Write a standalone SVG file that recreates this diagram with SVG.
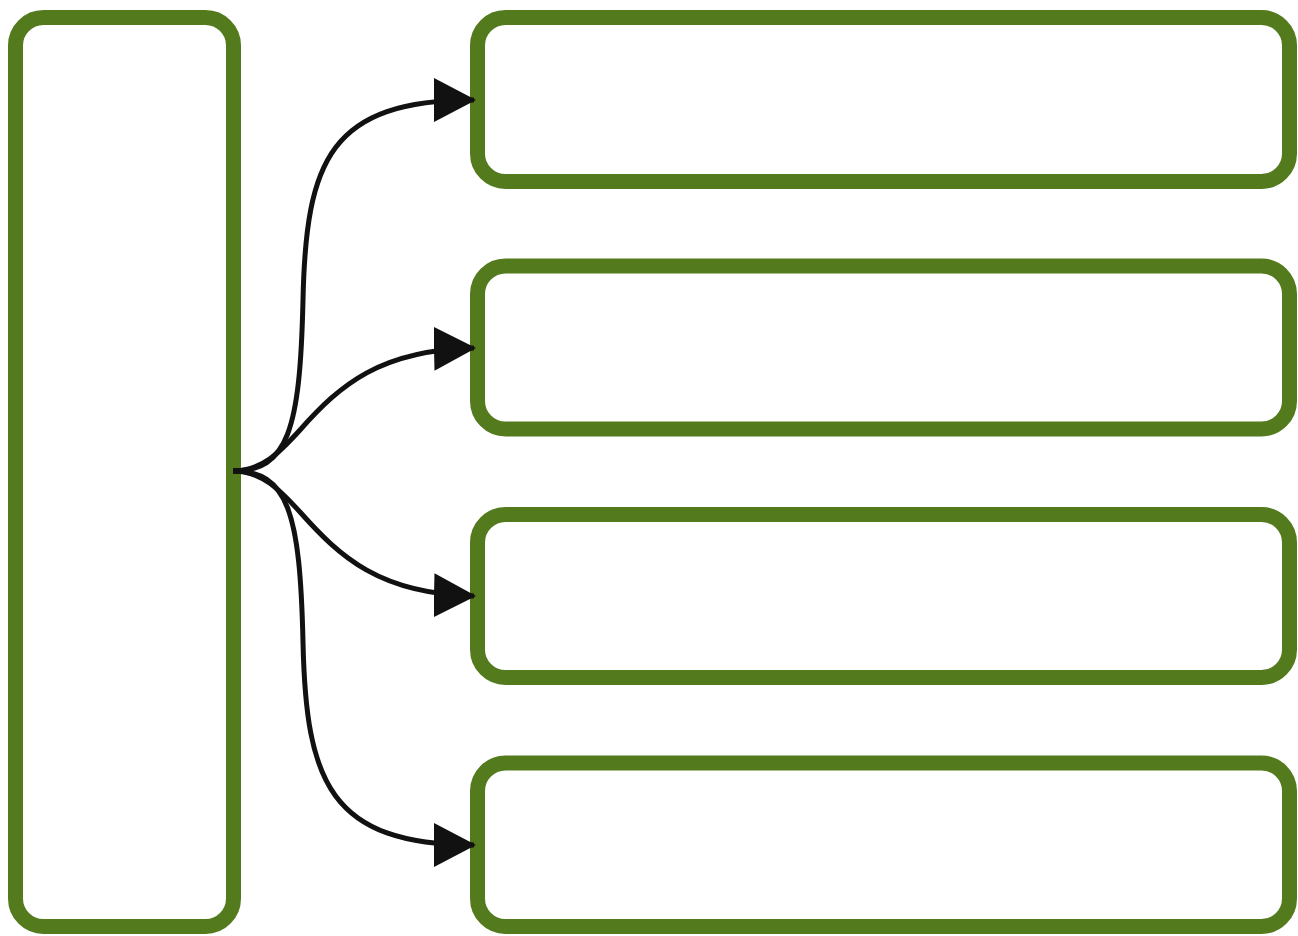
<svg xmlns="http://www.w3.org/2000/svg" width="1298" height="936" viewBox="0 0 1298 936">
  <style>
    .box { fill: #ffffff; stroke: #537a1c; stroke-width: 15; }
    .edge { fill: none; stroke: #111111; stroke-width: 5; }
  </style>
  <defs>
    <marker id="arrow" markerUnits="userSpaceOnUse" markerWidth="42" markerHeight="44" refX="40" refY="22" orient="auto">
      <path d="M0,0 L42,22 L0,44 z" fill="#111111"/>
    </marker>
  </defs>
  <rect width="1298" height="936" fill="#ffffff"/>
  <g id="node-left">
    <rect class="box" x="15.5" y="17.5" width="218" height="909" rx="28" ry="28"/>
  </g>
  <g id="node-1">
    <rect class="box" x="477.5" y="17.5" width="812" height="164" rx="28" ry="28"/>
  </g>
  <g id="node-2">
    <rect class="box" x="477.5" y="266" width="812" height="163" rx="28" ry="28"/>
  </g>
  <g id="node-3">
    <rect class="box" x="477.5" y="514.5" width="812" height="163" rx="28" ry="28"/>
  </g>
  <g id="node-4">
    <rect class="box" x="477.5" y="763" width="812" height="163.5" rx="28" ry="28"/>
  </g>
  <g id="connectors">
    <path class="edge" marker-end="url(#arrow)" d="M233,471 C288,471 300,430 303,300 C306,160 330,100 474,100"/>
    <path class="edge" marker-end="url(#arrow)" d="M233,471 C262,471 280,452 300,430 C340,385 380,350 474,348"/>
    <path class="edge" marker-end="url(#arrow)" d="M233,471 C262,471 280,490 300,512 C340,557 380,594 474,596"/>
    <path class="edge" marker-end="url(#arrow)" d="M233,471 C288,471 300,512 303,642 C306,782 330,845 474,845"/>
  </g>
</svg>
